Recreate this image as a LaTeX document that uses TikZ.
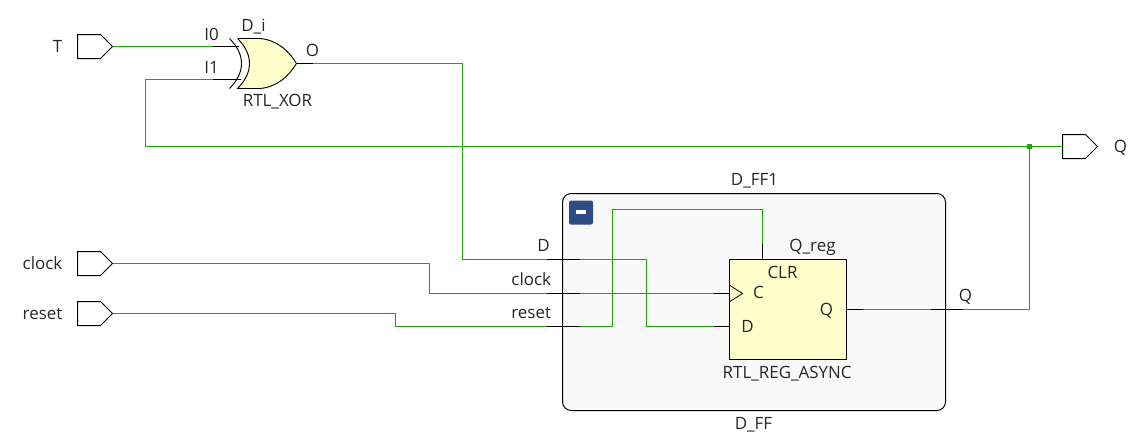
\documentclass[tikz,border=0pt]{standalone}
\usepackage{fontspec}
\setmainfont{Open Sans}
\usetikzlibrary{shapes.symbols}
\definecolor{wiregreen}{HTML}{1AAA00}
\definecolor{gateyellow}{HTML}{FFFFCC}
\definecolor{blockgrey}{HTML}{F9F9F9}
\definecolor{buttonblue}{HTML}{2F4B85}
\tikzset{
  wire/.style = {draw = wiregreen, line width = .75pt},
  stub/.style = {draw = black, line width = .75pt},
  port/.style = {draw = black, line width = .75pt, signal, signal to = east, signal from = nowhere, anchor = west,
    signal pointer angle = 90, minimum width = 26.25pt, minimum height = 18pt, inner sep = 0pt, outer sep = 0pt},
  lbl/.style = {anchor = base, inner sep = 0pt, font = \fontsize{12.7}{14}\selectfont, text = black!85}
}
\begin{document}
\begin{tikzpicture}[x = .75pt, y = -.75pt]
      \useasboundingbox (-.5,-.5) rectangle (1136.5,438.5);

      % hierarchy block
      \node[draw, line width = .75pt, fill = blockgrey, rounded corners = 6.5pt, minimum width = 287.25pt, minimum height = 162.75pt, inner sep = 0pt, outer sep = 0pt] (dff) at (753.5,301.5) {};
      \node[fill = buttonblue, rounded corners = 1.5pt, minimum width = 18pt, minimum height = 18pt, inner sep = 0pt] (collapse) at (580.5,212) {};
      \fill[white] (575.5,209.8) rectangle (585.5,213);

      % ports
      \node[port] (T) at (77,46) {};
      \node[port] (clock) at (77,263) {};
      \node[port] (reset) at (77,313) {};
      \node[port] (Qout) at (1062,146) {};

      % register
      \node[draw, line width = .75pt, fill = gateyellow, minimum width = 87.75pt, minimum height = 75pt, inner sep = 0pt, outer sep = 0pt] (reg) at (787.5,309) {};
      \draw[line width = .6pt] (729.5,285) -- (742,293) -- (729.5,301);

      % xor gate
      \fill[gateyellow] (237,38) -- (260,38) .. controls (277,40) and (288,50) .. (296,63) .. controls (288,76) and (277,86) .. (260,88) -- (237,88) .. controls (253,72) and (253,54) .. (237,38);
      \draw[line width = .7pt] (237,38) -- (260,38) .. controls (277,40) and (288,50) .. (296,63) .. controls (288,76) and (277,86) .. (260,88) -- (237,88) .. controls (253,72) and (253,54) .. (237,38);
      \draw[line width = .7pt] (229,38) .. controls (245,54) and (245,72) .. (229,88);

      \coordinate (xorI0a) at (212,46);
      \coordinate (xorI0) at (238,46);
      \coordinate (xorI1a) at (212,79);
      \coordinate (xorI1) at (240,79);
      \coordinate (xorO) at (296,63);
      \coordinate (xorOa) at (312,63);
      \coordinate (bendI1) at (145,146);
      \coordinate (bendD) at (462,259);
      \coordinate (bendClock) at (429,293);
      \coordinate (bendReset) at (395,326);
      \coordinate (dIn) at (546,259);
      \coordinate (dInner) at (579,259);
      \coordinate (cIn) at (546,293);
      \coordinate (cInner) at (579,293);
      \coordinate (rIn) at (546,326);
      \coordinate (rInner) at (579,326);
      \coordinate (regD) at (729,326);
      \coordinate (regDa) at (713,326);
      \coordinate (regC) at (729,293);
      \coordinate (regCa) at (713,293);
      \coordinate (regClr) at (762,259);
      \coordinate (regClra) at (762,243);
      \coordinate (bendClrA) at (612,326);
      \coordinate (bendClrB) at (612,209);
      \coordinate (regQ) at (846,309);
      \coordinate (regQa) at (862,309);
      \coordinate (qIn) at (930,309);
      \coordinate (qOut) at (962,309);
      \coordinate (bendQ) at (1029,309);
      \coordinate (tap) at (1029,146);

      % nets
      \draw[wire] (T.east) -- (xorI0a);
      \draw[stub] (xorI0a) -- (xorI0);
      \draw[stub] (xorI1a) -- (xorI1);
      \draw[stub] (xorO) -- (xorOa);
      \draw[wire] (xorI1a) -| (bendI1) -- (tap);
      \draw[wire] (xorOa) -| (bendD) -- (dIn);
      \draw[wire] (clock.east) -| (bendClock) -- (cIn);
      \draw[wire] (reset.east) -| (bendReset) -- (rIn);
      \draw[stub] (dIn) -- (dInner);
      \draw[stub] (cIn) -- (cInner);
      \draw[stub] (rIn) -- (rInner);
      \draw[wire] (dInner) -| (646,326) -- (regDa);
      \draw[stub] (regDa) -- (regD);
      \draw[wire] (cInner) -- (regCa);
      \draw[stub] (regCa) -- (regC);
      \draw[wire] (rInner) -- (bendClrA) -- (bendClrB) -| (regClra);
      \draw[stub] (regClra) -- (regClr);
      \draw[stub] (regQ) -- (regQa);
      \draw[wire] (regQa) -- (qIn);
      \draw[stub] (qIn) -- (qOut);
      \draw[wire] (qOut) -- (bendQ) -- (tap);
      \draw[wire] (tap) -- (Qout.west);
      \fill[wiregreen] (1026.5,143.5) rectangle (1031.5,148.5);

      % labels
      \node[lbl] (lblT) at (57,52) {T};
      \node[lbl] (lblClock) at (42,269) {clock};
      \node[lbl] (lblReset) at (42,319) {reset};
      \node[lbl] (lblQout) at (1120,152) {Q};
      \node[lbl] (lblI0) at (211,40) {I0};
      \node[lbl] (lblI1) at (211,73) {I1};
      \node[lbl] (lblXorName) at (253,31) {D\_i};
      \node[lbl] (lblXorO) at (312,55.7) {O};
      \node[lbl] (lblXorType) at (277,105.7) {RTL\_XOR};
      \node[lbl] (lblBlockTop) at (754,185) {D\_FF1};
      \node[lbl] (lblBlockBottom) at (753,429) {D\_FF};
      \node[lbl] (lblPinD) at (543,250.7) {D};
      \node[lbl] (lblPinClock) at (530.7,285) {clock};
      \node[lbl] (lblPinReset) at (530.7,317.7) {reset};
      \node[lbl] (lblPinQ) at (965,301) {Q};
      \node[lbl] (lblRegName) at (812,251) {Q\_reg};
      \node[lbl] (lblClr) at (782,277.7) {CLR};
      \node[lbl] (lblC) at (758,298) {C};
      \node[lbl] (lblD) at (747,331.7) {D};
      \node[lbl] (lblQ) at (826,315) {Q};
      \node[lbl] (lblRegType) at (786.7,378) {RTL\_REG\_ASYNC};
    \end{tikzpicture}
\end{document}
